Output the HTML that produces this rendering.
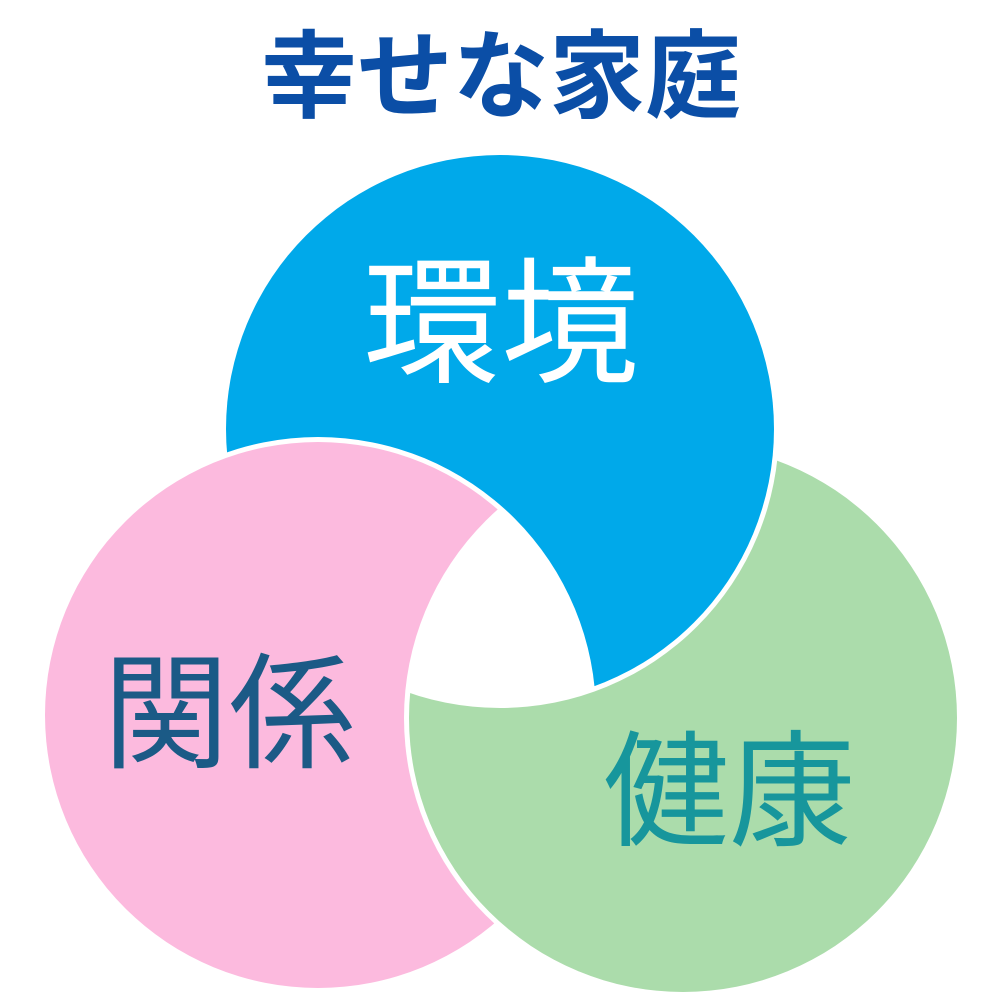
<!DOCTYPE html>
<html><head><meta charset="utf-8"><style>
html,body{margin:0;padding:0;background:#fff;}
svg{display:block;}
text{font-family:"Liberation Sans","Noto Sans CJK JP",sans-serif;}
</style></head><body>
<svg width="1000" height="1000" viewBox="0 0 1000 1000" xmlns="http://www.w3.org/2000/svg">
<defs>
<mask id="mp"><rect width="1000" height="1000" fill="#fff"/><circle cx="318" cy="715" r="278" fill="#000"/></mask>
<mask id="mg"><rect width="1000" height="1000" fill="#fff"/><circle cx="683" cy="718" r="279" fill="#000"/></mask>
<mask id="mb"><rect width="1000" height="1000" fill="#fff"/><circle cx="500" cy="429" r="279" fill="#000"/></mask>
</defs>
<circle cx="500" cy="429" r="274" fill="#00a9ea" mask="url(#mp)"/>
<circle cx="318" cy="715" r="273" fill="#fcbade" mask="url(#mg)"/>
<circle cx="683" cy="718" r="274" fill="#abdcab" mask="url(#mb)"/>
<text x="501" y="110" text-anchor="middle" font-size="96" font-weight="bold" fill="#0b4ea6">幸せな家庭</text>
<text x="501" y="372" text-anchor="middle" font-size="138" fill="#fff">環境</text>
<text x="229" y="758" text-anchor="middle" font-size="126" fill="#1b5a86">関係</text>
<text x="729" y="836" text-anchor="middle" font-size="126" fill="#17969c">健康</text>
</svg>
</body></html>
